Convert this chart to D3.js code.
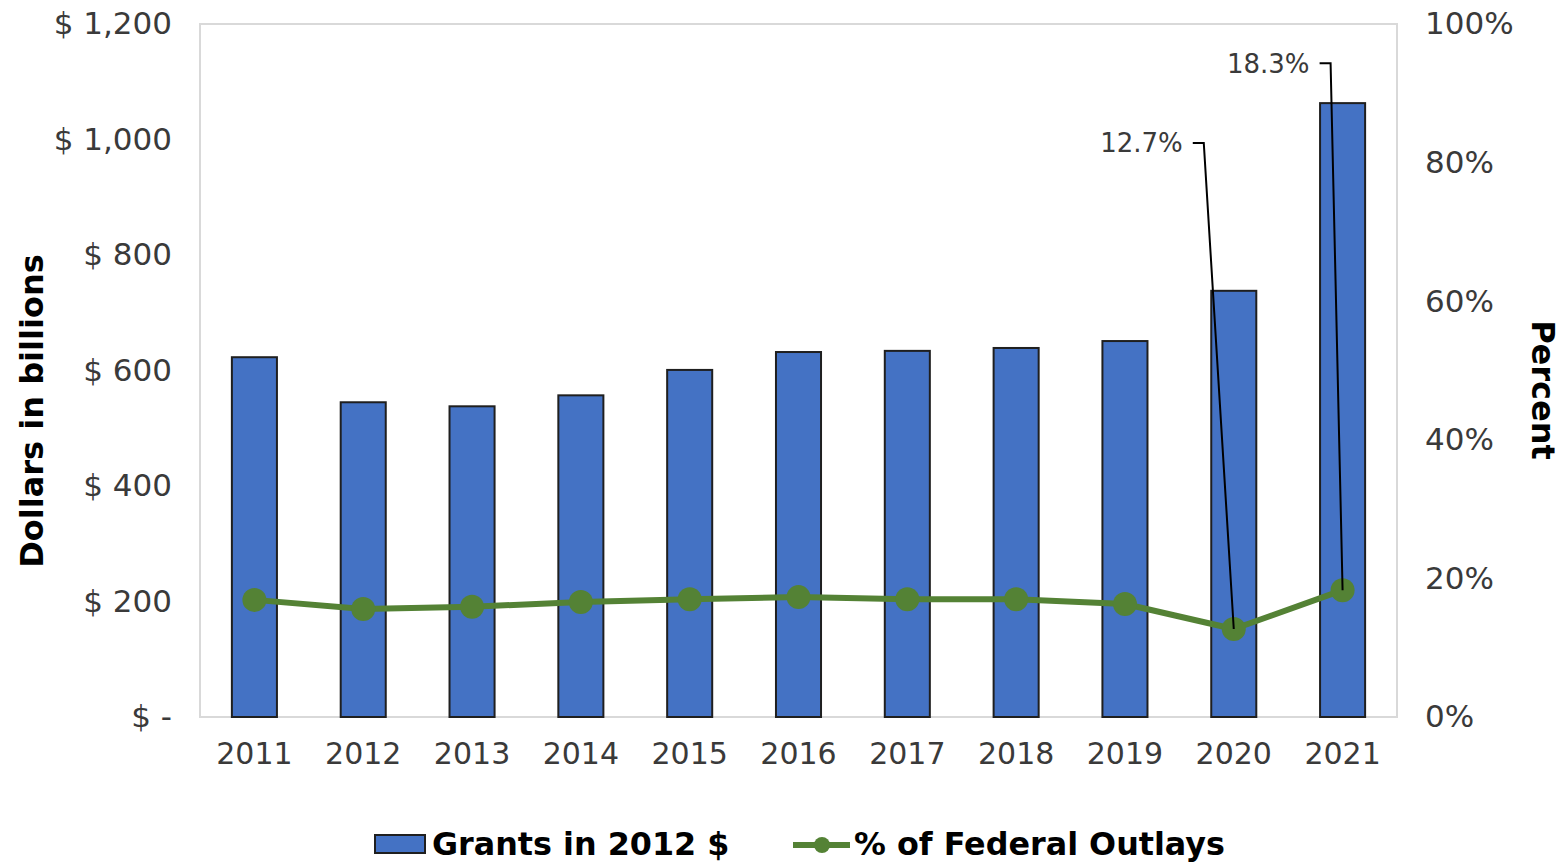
<!DOCTYPE html>
<meta charset="utf-8">

<!-- Load d3.js -->
<script src="https://d3js.org/d3.v7.min.js"></script>

<style>
  body { margin: 0; background: #fff; }
  text { font-family: "DejaVu Sans", sans-serif; }
</style>

<svg id="chart" width="1563" height="864"></svg>

<script>

// data
var years = ["2011","2012","2013","2014","2015","2016","2017","2018","2019","2020","2021"];
var grants = [623, 545, 538, 557, 601, 632, 634, 639, 651, 738, 1063];      // billions, 2012 $
var pctOutlays = [16.9, 15.6, 15.9, 16.6, 17.0, 17.3, 17.0, 17.0, 16.3, 12.7, 18.3]; // % of federal outlays
var dollarTicks = [0, 200, 400, 600, 800, 1000, 1200];
var pctTicks = [0, 20, 40, 60, 80, 100];
var labelledYears = ["2020", "2021"];

var seriesNames = ["Grants in 2012 $", "% of Federal Outlays"];

// plot box
var plot = {left: 200, right: 1397, top: 24, bottom: 717};

var svg = d3.select("#chart");

var x = d3.scaleBand()
  .domain(years)
  .range([plot.left, plot.right])
  .paddingInner(0)
  .paddingOuter(0);
var barW = x.bandwidth() * 0.414;

var y = d3.scaleLinear().domain([0, 1200]).range([plot.bottom, plot.top]);
var yR = d3.scaleLinear().domain([0, 100]).range([plot.bottom, plot.top]);

var data = years.map(function(d, i) { return {year: d, grant: grants[i], pct: pctOutlays[i]}; });

// plot area border
svg.append("rect")
  .attr("x", plot.left).attr("y", plot.top)
  .attr("width", plot.right - plot.left).attr("height", plot.bottom - plot.top)
  .attr("fill", "none").attr("stroke", "#d9d9d9").attr("stroke-width", 2);

// left axis
var leftAxis = svg.append("g")
  .attr("transform", "translate(" + plot.left + ",0)")
  .call(d3.axisLeft(y).tickValues(dollarTicks).tickSize(0).tickPadding(28)
    .tickFormat(function(v) { return v === 0 ? "$ -" : "$ " + d3.format(",")(v); }));
leftAxis.select(".domain").remove();

// right axis
var rightAxis = svg.append("g")
  .attr("transform", "translate(" + plot.right + ",0)")
  .call(d3.axisRight(yR).tickValues(pctTicks).tickSize(0).tickPadding(28)
    .tickFormat(function(v) { return v + "%"; }));
rightAxis.select(".domain").remove();

// bottom axis
var bottomAxis = svg.append("g")
  .attr("transform", "translate(0," + plot.bottom + ")")
  .call(d3.axisBottom(x).tickSize(0).tickPadding(26));
bottomAxis.select(".domain").remove();

svg.selectAll(".tick text")
  .attr("fill", "#3a3a3a")
  .style("font-size", "31px")
  .style("font-family", "'DejaVu Sans', sans-serif");
bottomAxis.selectAll(".tick text").style("font-size", "30px");

// bars
svg.append("g")
  .selectAll("rect")
  .data(data)
  .enter()
  .append("rect")
    .attr("x", function(d) { return x(d.year) + (x.bandwidth() - barW) / 2; })
    .attr("y", function(d) { return y(d.grant); })
    .attr("width", barW)
    .attr("height", function(d) { return y(0) - y(d.grant); })
    .attr("fill", "#4472c4")
    .attr("stroke", "#1f1f1f")
    .attr("stroke-width", 2);

// line + markers
var cx = function(d) { return x(d.year) + x.bandwidth() / 2; };
var line = d3.line()
  .x(cx)
  .y(function(d) { return yR(d.pct); });

svg.append("path")
  .datum(data)
  .attr("d", line)
  .attr("fill", "none")
  .attr("stroke", "#548235")
  .attr("stroke-width", 6)
  .attr("stroke-linejoin", "round");

svg.append("g")
  .selectAll("circle")
  .data(data)
  .enter()
  .append("circle")
    .attr("cx", cx)
    .attr("cy", function(d) { return yR(d.pct); })
    .attr("r", 12)
    .attr("fill", "#548235");

// callouts with leader lines (offsets from the point, in px)
var calloutOffsets = {"2020": [-30, -486], "2021": [-12, -527]};
var callouts = data.filter(function(d) { return labelledYears.indexOf(d.year) >= 0; });

var cg = svg.append("g");
callouts.forEach(function(d) {
  var px = cx(d), py = yR(d.pct);
  var off = calloutOffsets[d.year];
  var ex = px + off[0], ey = py + off[1];
  cg.append("polyline")
    .attr("points", [[px, py], [ex, ey], [ex - 11, ey]].map(function(p) { return p.join(","); }).join(" "))
    .attr("fill", "none")
    .attr("stroke", "#000")
    .attr("stroke-width", 2);
  cg.append("text")
    .attr("x", ex - 21)
    .attr("y", ey)
    .attr("dy", "0.36em")
    .attr("text-anchor", "end")
    .attr("fill", "#3a3a3a")
    .style("font-size", "26px")
    .text(d3.format(".1f")(d.pct) + "%");
});

// axis titles
svg.append("text")
  .attr("transform", "translate(43,411) rotate(-90)")
  .attr("text-anchor", "middle")
  .style("font-size", "32px")
  .style("font-weight", "bold")
  .attr("fill", "#000")
  .text("Dollars in billions");

svg.append("text")
  .attr("transform", "translate(1532,390) rotate(90)")
  .attr("text-anchor", "middle")
  .style("font-size", "32px")
  .style("font-weight", "bold")
  .attr("fill", "#000")
  .text("Percent");

// legend
var legend = svg.append("g");
legend.append("rect")
  .attr("x", 375).attr("y", 835).attr("width", 50).attr("height", 18)
  .attr("fill", "#4472c4").attr("stroke", "#1f1f1f").attr("stroke-width", 2);
legend.append("text")
  .attr("x", 432).attr("y", 855)
  .style("font-size", "31.8px").style("font-weight", "bold")
  .attr("fill", "#000")
  .text(seriesNames[0]);
legend.append("line")
  .attr("x1", 793).attr("x2", 850).attr("y1", 845).attr("y2", 845)
  .attr("stroke", "#548235").attr("stroke-width", 6);
legend.append("circle")
  .attr("cx", 822).attr("cy", 845).attr("r", 8)
  .attr("fill", "#548235");
legend.append("text")
  .attr("x", 854).attr("y", 855)
  .style("font-size", "31.8px").style("font-weight", "bold")
  .attr("fill", "#000")
  .text(seriesNames[1]);

</script>
